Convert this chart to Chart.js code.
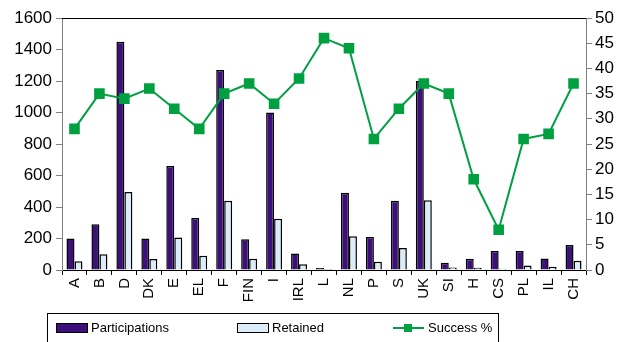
<!DOCTYPE html>
<html>
<head>
<meta charset="utf-8">
<script src="https://cdn.jsdelivr.net/npm/chart.js@4/dist/chart.umd.min.js"></script>
<style>
  html, body { margin: 0; padding: 0; background: #fff; }
  #wrap { position: relative; width: 621px; height: 342px; }
</style>
</head>
<body>
<div id="wrap"><canvas id="c" width="621" height="342"></canvas></div>
<script>
const countries = ['A','B','D','DK','E','EL','F','FIN','I','IRL','L','NL','P','S','UK','SI','H','CS','PL','IL','CH'];
const participations = [200, 290, 1450, 200, 660, 330, 1270, 195, 1000, 105, 12, 490, 210, 440, 1200, 46, 72, 120, 120, 73, 158];
const retained = [55, 100, 495, 70, 207, 90, 440, 72, 326, 37, 6, 215, 53, 139, 443, 16, 14, 8, 29, 20, 58];
const successPct = [28, 35, 34, 36, 32, 28, 35, 37, 33, 38, 46, 44, 26, 32, 37, 35, 18, 8, 26, 27, 37];
const leftTicks = [0, 200, 400, 600, 800, 1000, 1200, 1400, 1600];
const rightTicks = [0, 5, 10, 15, 20, 25, 30, 35, 40, 45, 50];

const PURPLE = '#3d0f7a';
const LIGHT = '#dcebf8';
const GREEN = '#00a040';
const AXIS_GREY = '#808080';
const FONT = "'Liberation Sans', Arial, sans-serif";

// Frame line across the top of the plot area
const frame = {
  id: 'frame',
  afterDraw(chart) {
    const { ctx, chartArea: a } = chart;
    ctx.save();
    ctx.strokeStyle = '#000';
    ctx.lineWidth = 1;
    ctx.beginPath();
    ctx.moveTo(a.left, a.top + 0.5);
    ctx.lineTo(a.right, a.top + 0.5);
    ctx.stroke();
    ctx.restore();
  }
};

// Boxed legend below the category labels
const boxLegend = {
  id: 'boxLegend',
  afterDraw(chart) {
    const ctx = chart.ctx;
    const ds = chart.data.datasets;
    ctx.save();
    ctx.strokeStyle = '#000';
    ctx.lineWidth = 1;
    ctx.strokeRect(47.5, 313.5, 451, 40);
    ctx.font = '13px ' + FONT;
    ctx.fillStyle = '#000';
    ctx.textBaseline = 'middle';
    const cy = 328;
    // bar swatches
    [[56, ds[0]], [237, ds[1]]].forEach(([x, d]) => {
      ctx.fillStyle = d.backgroundColor;
      ctx.fillRect(x, cy - 5, 32, 10);
      ctx.strokeStyle = '#000';
      ctx.strokeRect(x + 0.5, cy - 4.5, 31, 9);
      ctx.fillStyle = '#000';
      ctx.fillText(d.label, x + 35, cy);
    });
    // line swatch
    const d = ds[2];
    ctx.strokeStyle = d.borderColor;
    ctx.lineWidth = 2;
    ctx.beginPath();
    ctx.moveTo(393, cy);
    ctx.lineTo(424, cy);
    ctx.stroke();
    ctx.fillStyle = d.backgroundColor;
    ctx.fillRect(404, cy - 4, 8, 8);
    ctx.fillStyle = '#000';
    ctx.fillText(d.label, 428, cy);
    ctx.restore();
  }
};

new Chart(document.getElementById('c'), {
  type: 'bar',
  data: {
    labels: countries,
    datasets: [
      {
        label: 'Participations',
        data: participations,
        backgroundColor: PURPLE,
        borderColor: '#000',
        borderWidth: 1.5,
        yAxisID: 'y',
        categoryPercentage: 0.64,
        barPercentage: 1,
        order: 2
      },
      {
        label: 'Retained',
        data: retained,
        backgroundColor: LIGHT,
        borderColor: '#000',
        borderWidth: 1.5,
        yAxisID: 'y',
        categoryPercentage: 0.64,
        barPercentage: 1,
        order: 2
      },
      {
        type: 'line',
        label: 'Success %',
        data: successPct,
        borderColor: GREEN,
        backgroundColor: GREEN,
        borderWidth: 2,
        pointStyle: 'rect',
        pointRadius: 7.5,
        pointBackgroundColor: GREEN,
        pointBorderColor: GREEN,
        pointBorderWidth: 0,
        tension: 0,
        yAxisID: 'y1',
        order: 1
      }
    ]
  },
  options: {
    responsive: false,
    animation: false,
    devicePixelRatio: 1,
    layout: { padding: { top: 18, right: 0, left: 0, bottom: 0 } },
    plugins: {
      legend: { display: false },
      tooltip: { enabled: false }
    },
    scales: {
      x: {
        offset: true,
        grid: {
          offset: true,
          drawOnChartArea: false,
          tickLength: 5,
          color: '#000'
        },
        border: { color: '#000', width: 1 },
        ticks: {
          color: '#000',
          font: { family: FONT, size: 15 },
          minRotation: 90,
          maxRotation: 90,
          autoSkip: false,
          padding: 3
        },
        afterFit(scale) { scale.height = 72; }
      },
      y: {
        position: 'left',
        min: 0,
        max: 1600,
        afterBuildTicks(scale) { scale.ticks = leftTicks.map(v => ({ value: v })); },
        grid: { drawOnChartArea: false, tickLength: 6, color: AXIS_GREY },
        border: { color: AXIS_GREY, width: 1 },
        ticks: {
          color: '#000',
          font: { family: FONT, size: 17 },
          padding: 4,
          callback: v => String(v)
        },
        afterFit(scale) { scale.width = 62; }
      },
      y1: {
        position: 'right',
        min: 0,
        max: 50,
        afterBuildTicks(scale) { scale.ticks = rightTicks.map(v => ({ value: v })); },
        grid: { drawOnChartArea: false, tickLength: 6, color: AXIS_GREY },
        border: { color: AXIS_GREY, width: 1 },
        ticks: {
          color: '#000',
          font: { family: FONT, size: 17 },
          padding: 3,
          callback: v => String(v)
        },
        afterFit(scale) { scale.width = 35; }
      }
    }
  },
  plugins: [frame, boxLegend]
});
</script>
</body>
</html>
